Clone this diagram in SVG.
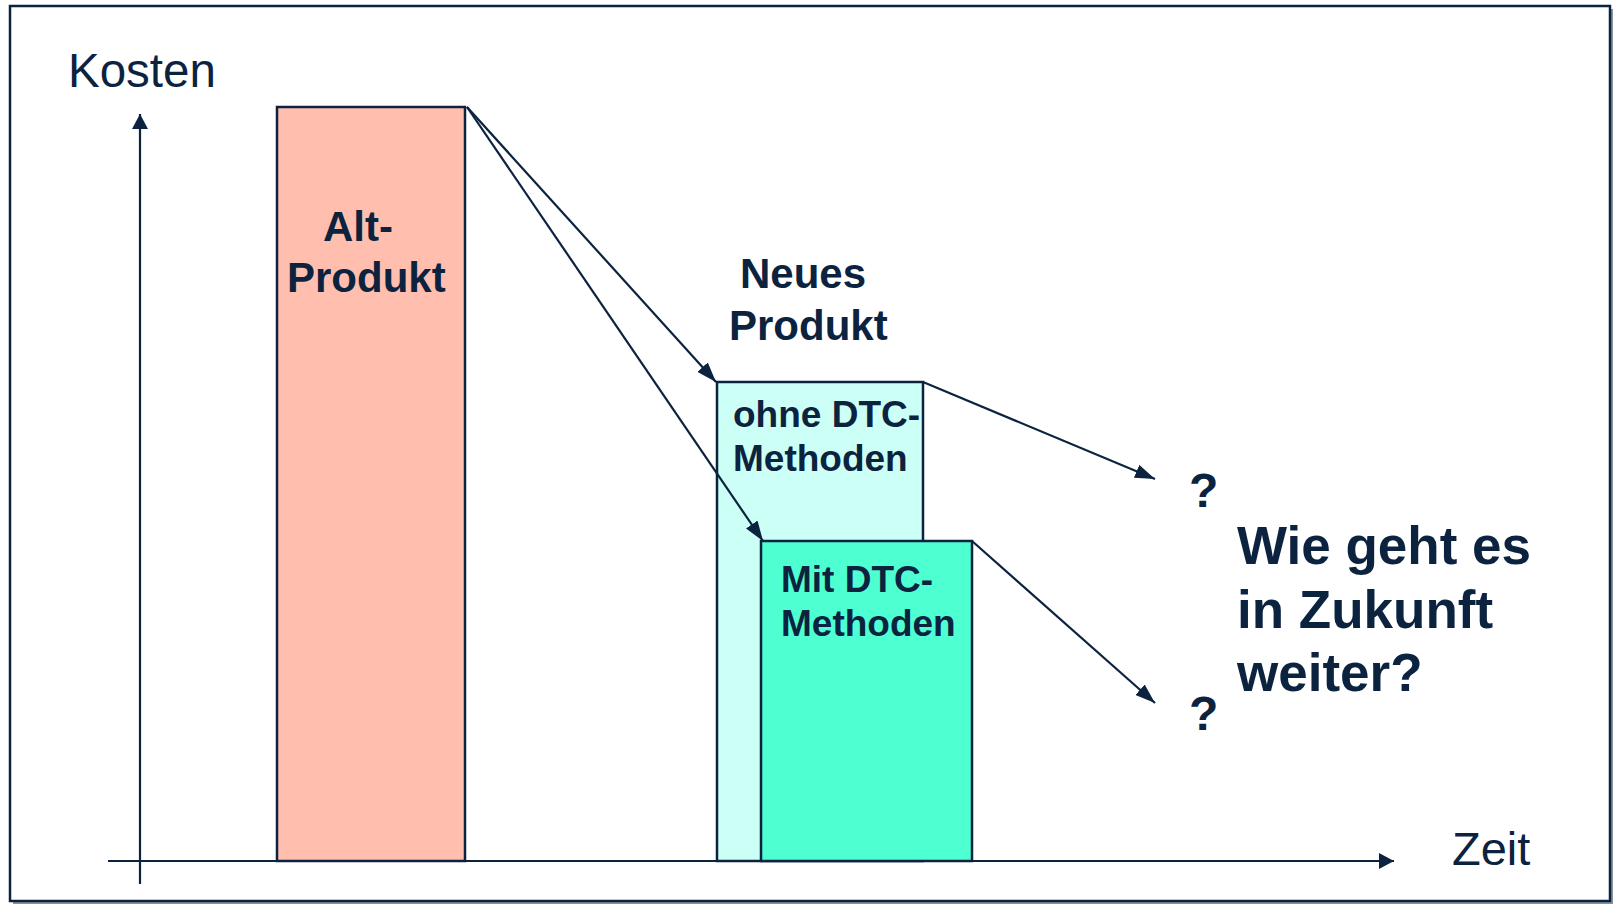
<svg xmlns="http://www.w3.org/2000/svg" width="1614" height="904" viewBox="0 0 1614 904">
<style>
.t{font-family:"Liberation Sans",Arial,sans-serif;fill:#0c2340}
.b{font-weight:bold}
.box{stroke:#0c2340;stroke-width:2.5}
.ln{stroke:#0c2340;stroke-width:2.2;fill:none}
</style>
<defs>
<marker id="ah" markerUnits="userSpaceOnUse" markerWidth="20" markerHeight="14" refX="20" refY="7" orient="auto">
<path d="M0,0 L20,7 L0,14 z" fill="#0c2340"/>
</marker>
<marker id="ax" markerUnits="userSpaceOnUse" markerWidth="16" markerHeight="16" refX="15" refY="8" orient="auto">
<path d="M0,0 L15,8 L0,16 z" fill="#0c2340"/>
</marker>
</defs>
<rect x="0" y="0" width="1614" height="904" fill="#ffffff"/>
<rect x="13" y="9" width="1600" height="895" fill="#8a93a0"/>
<rect x="10" y="6" width="1600" height="895" fill="#ffffff" stroke="#0c2340" stroke-width="2.5"/>

<g id="axes">
<line class="ln" x1="140" y1="884" x2="140" y2="114" marker-end="url(#ax)"/>
<line class="ln" x1="108" y1="861" x2="1394" y2="861" marker-end="url(#ax)"/>
<text class="t" x="68" y="87" font-size="47.5">Kosten</text>
<text class="t" x="1452" y="865" font-size="47">Zeit</text>
</g>

<g id="alt-produkt">
<rect class="box" x="277" y="107" width="188" height="754" fill="#ffbeae"/>
<text class="t b" font-size="42"><tspan x="323" y="241">Alt-</tspan><tspan x="287" y="292">Produkt</tspan></text>
</g>

<g id="neues-produkt">
<text class="t b" font-size="42"><tspan x="740" y="288">Neues</tspan><tspan x="729" y="340">Produkt</tspan></text>
</g>

<g id="ohne-dtc">
<rect class="box" x="717" y="382" width="206" height="479" fill="#ccfff5"/>
<text class="t b" font-size="37"><tspan x="733" y="427">ohne DTC-</tspan><tspan x="733" y="471">Methoden</tspan></text>
</g>

<g id="mit-dtc">
<rect class="box" x="761" y="541" width="211" height="320" fill="#4dffd1"/>
<text class="t b" font-size="37"><tspan x="781" y="592">Mit DTC-</tspan><tspan x="781" y="636">Methoden</tspan></text>
</g>

<g id="connectors">
<line class="ln" x1="467" y1="107" x2="716" y2="382" marker-end="url(#ah)"/>
<line class="ln" x1="467" y1="107" x2="763" y2="541" marker-end="url(#ah)"/>
<line class="ln" x1="923" y1="382" x2="1155" y2="479" marker-end="url(#ah)"/>
<line class="ln" x1="972" y1="541" x2="1155" y2="703" marker-end="url(#ah)"/>
</g>

<g id="q1"><text class="t b" x="1189" y="507" font-size="48">?</text></g>
<g id="q2"><text class="t b" x="1189" y="730" font-size="48">?</text></g>

<g id="frage">
<text class="t b" font-size="53"><tspan x="1237" y="564">Wie geht es</tspan><tspan x="1237" y="628">in Zukunft</tspan><tspan x="1237" y="691">weiter?</tspan></text>
</g>
</svg>
